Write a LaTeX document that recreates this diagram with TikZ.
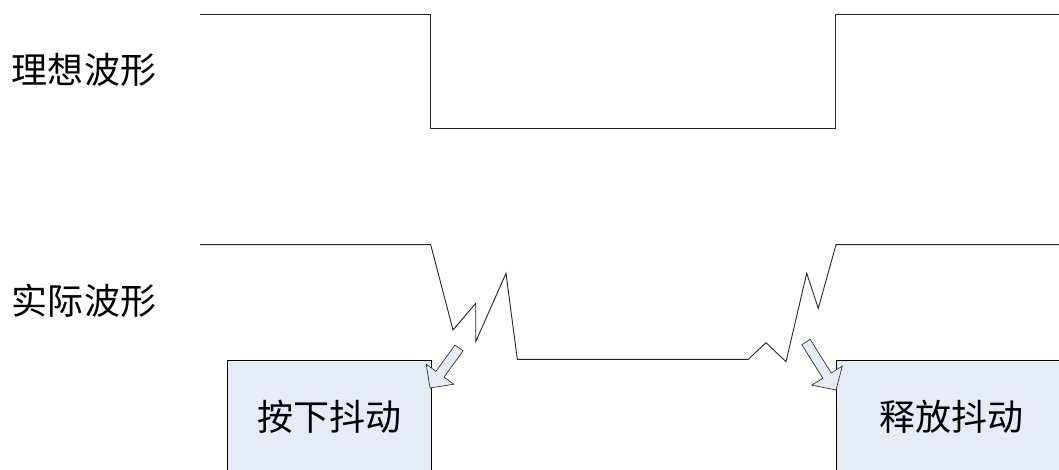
\documentclass[tikz,border=0pt]{standalone}
\usepackage{fontspec}
\newfontfamily\cjk{Noto Sans CJK SC}
\definecolor{boxfill}{HTML}{E6ECF7}
\begin{document}
\begin{tikzpicture}[x=1pt,y=-1pt,
  wave/.style={draw=black!85, line width=0.9pt, line join=miter},
  boxshape/.style={draw=black, line width=0.9pt, fill=boxfill, rectangle, inner sep=0pt},
  lab/.style={font=\cjk\fontsize{36}{40}\selectfont, inner sep=0pt},
  blockarrow/.style={draw=black!80, line width=0.7pt, fill=boxfill, line join=miter}]
\useasboundingbox (0,0) rectangle (1059,470);
\clip (0,0) rectangle (1059,470);
\fill[white] (0,0) rectangle (1059,470);
% labels
\node[lab] (ideal) at (84,70) {理想波形};
\node[lab] (actual) at (84,301) {实际波形};
% ideal waveform
\draw[wave] (200,14) -- (430,14) -- (430,128) -- (835,128) -- (835,14) -- (1060,14);
% actual waveform
\draw[wave] (200,244.7) -- (430.7,244.7) -- (453,330) -- (475.7,303.3) -- (475.7,341.7)
  -- (506,273.3) -- (517.3,359.3) -- (748.3,359.3) -- (766,342.7) -- (786,361.7)
  -- (806.7,273.3) -- (818.3,308.3) -- (836,244.7) -- (1060,244.7);
% boxes
\node[boxshape, anchor=north west, minimum width=204pt, minimum height=140pt] (press) at (227,360) {};
\node[boxshape, anchor=north west, minimum width=240pt, minimum height=140pt] (release) at (836,360) {};
\node[lab] (presst) at (329,417) {按下抖动};
\node[lab] (releaset) at (951,417) {释放抖动};
% block arrows
\draw[blockarrow] (454.95,345.1) -- (463.05,350.9) -- (444.05,377.1) -- (453.8,384.2)
  -- (430,388) -- (426.2,364.2) -- (435.95,371.3) -- cycle;
\draw[blockarrow] (801.8,344.65) -- (810.2,339.35) -- (831.2,372.95) -- (842.3,366.1)
  -- (836,390) -- (811.7,385.1) -- (822.8,378.25) -- cycle;
\end{tikzpicture}
\end{document}
